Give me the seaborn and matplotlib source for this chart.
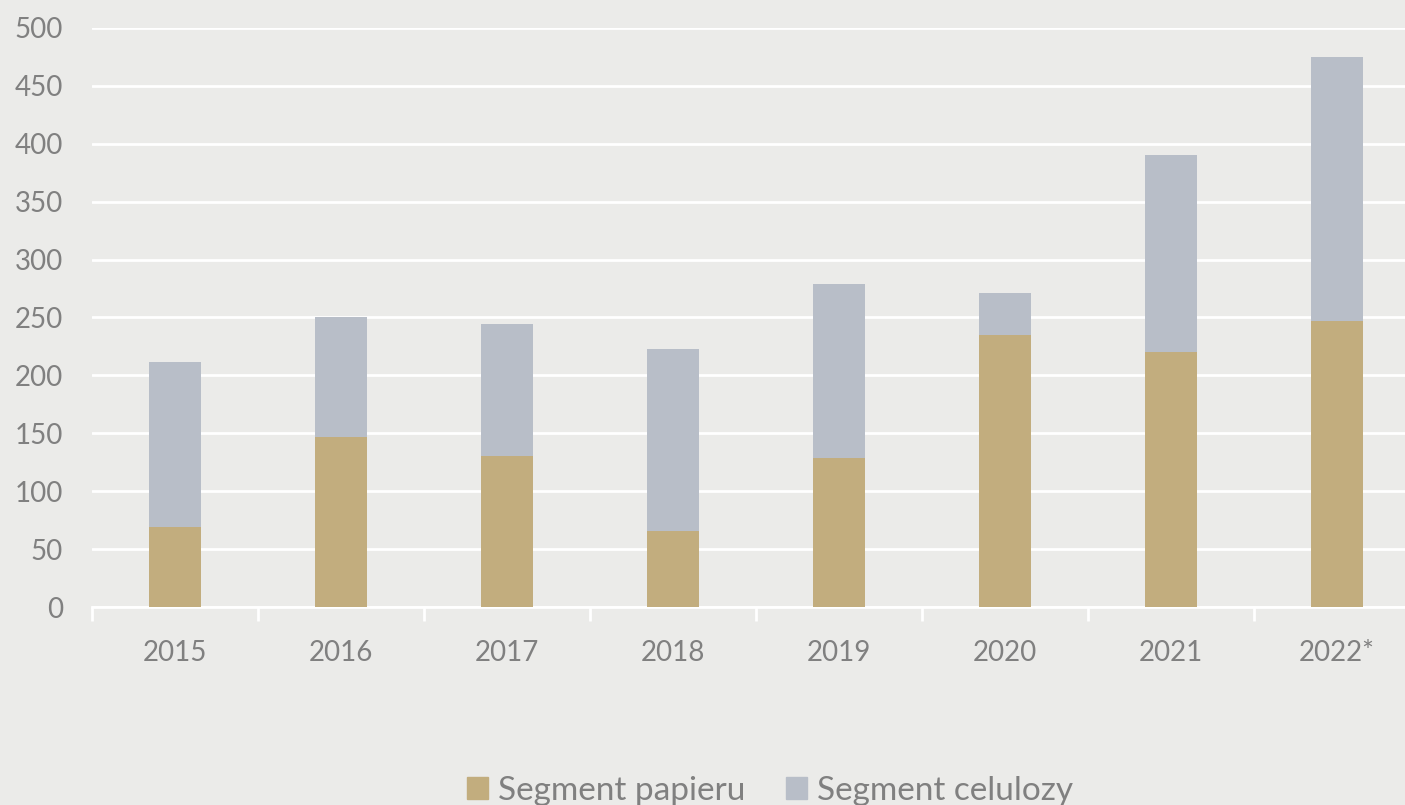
import pandas as pd
import matplotlib.pyplot as plt
import seaborn as sns
from matplotlib.patches import Patch

# Data
years = ["2015", "2016", "2017", "2018", "2019", "2020", "2021", "2022*"]
papier = [69, 147, 130, 66, 129, 235, 220, 247]
celuloza = [143, 103, 114, 157, 150, 36, 170, 228]

BG = "#ebebe9"
C_PAP = "#c2ad7e"
C_CEL = "#b8bec8"
TXT = "#808080"

df = pd.DataFrame({"rok": years, "papier": papier, "celuloza": celuloza})
df["total"] = df["papier"] + df["celuloza"]

sns.set_theme(style="white")
plt.rcParams["font.family"] = ["Lato", "DejaVu Sans"]

fig = plt.figure(figsize=(14.05, 8.05), dpi=100, facecolor=BG)
ax = fig.add_axes([92 / 1405, 198 / 805, 1328 / 1405, 579 / 805])
ax.set_facecolor(BG)

# stacked: total in gray, paper drawn over it
sns.barplot(data=df, x="rok", y="total", color=C_CEL, width=0.31,
            saturation=1, linewidth=0, ax=ax, zorder=3)
sns.barplot(data=df, x="rok", y="papier", color=C_PAP, width=0.31,
            saturation=1, linewidth=0, ax=ax, zorder=4)

ax.set_ylim(0, 500)
ax.set_xlim(-0.5, len(years) - 0.5)
ax.set_yticks(range(0, 501, 50))
ax.yaxis.grid(True, color="white", linewidth=2, zorder=0)
ax.set_axisbelow(True)
ax.set_xlabel("")
ax.set_ylabel("")

for s in ["top", "right", "left"]:
    ax.spines[s].set_visible(False)
ax.spines["bottom"].set_color("white")
ax.spines["bottom"].set_linewidth(2)

# category boundary ticks on the x axis
ax.set_xticks([i - 0.5 for i in range(len(years))], minor=True)
ax.tick_params(axis="x", which="minor", bottom=True, length=10, width=2,
               color="white", direction="out")
ax.tick_params(axis="x", which="major", length=0, pad=24,
               labelsize=20, labelcolor=TXT)
ax.tick_params(axis="y", length=0, pad=21, labelsize=20, labelcolor=TXT)

handles = [Patch(color=C_PAP, label="Segment papieru"),
           Patch(color=C_CEL, label="Segment celulozy")]
leg = fig.legend(handles=handles, loc="lower center", bbox_to_anchor=(0.548, -0.038),
                 ncol=2, frameon=False, fontsize=24, handlelength=0.65,
                 handleheight=0.65, handletextpad=0.3, columnspacing=1.2)
for t in leg.get_texts():
    t.set_color(TXT)

fig.savefig("out.png", dpi=100, facecolor=BG)
